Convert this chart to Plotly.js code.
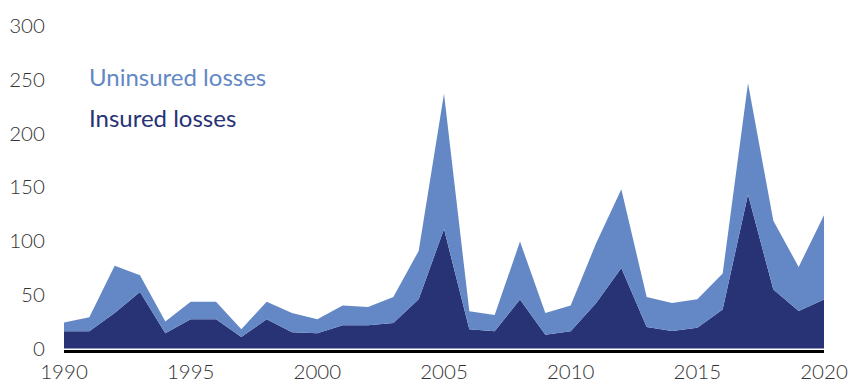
<!DOCTYPE html>
<html>
<head>
<meta charset="utf-8">
<script src="https://cdn.plot.ly/plotly-3.0.1.min.js"></script>
<style>html,body{margin:0;padding:0;background:#fff;}#chart{width:851px;height:383px;}</style>
</head>
<body>
<div id="chart"></div>
<script>
const years = [1990,1991,1992,1993,1994,1995,1996,1997,1998,1999,2000,2001,2002,2003,2004,2005,2006,2007,2008,2009,2010,2011,2012,2013,2014,2015,2016,2017,2018,2019,2020];
const insured = [16,16,33,52.5,14,27,27,10.5,27,15,14,21.5,21.5,23.6,45.7,111,17.7,16,45.4,12.7,16,42,74.8,19.9,16.1,19.3,36.3,143.2,54.7,34.8,45.4];
const uninsured = [8,13,44,15.5,11,16.5,16.5,7.2,16.5,18,13,18.5,17,24.2,45,126,16.8,15,54,20.3,24,55.5,73.2,27.9,26.1,26.4,33.3,103.5,64,41,78.6];
const yTicks = [0,50,100,150,200,250,300];
const xTicks = [1990,1995,2000,2005,2010,2015,2020];

const navy = '#283375';
const light = '#6388c5';

const tf = {family:'Lato, sans-serif', size:20.5, color:'#333', weight:300};

const traces = [
  {x: years, y: insured, type:'scatter', mode:'lines', stackgroup:'a', fill:'tozeroy',
   line:{width:0, color:navy}, fillcolor:navy, name:'Insured losses', hoverinfo:'skip'},
  {x: years, y: uninsured, type:'scatter', mode:'lines', stackgroup:'a', fill:'tonexty',
   line:{width:0, color:light}, fillcolor:light, name:'Uninsured losses', hoverinfo:'skip'}
];

const layout = {
  width: 851, height: 383,
  margin: {l:64, r:27, t:26, b:33},
  paper_bgcolor:'#fff', plot_bgcolor:'#fff',
  showlegend:false,
  font:{family:'Lato, "Open Sans", sans-serif', size:20, color:'#444'},
  xaxis:{range:[1990,2020], tickvals:xTicks, ticktext:xTicks.map(String),
    showgrid:false, zeroline:false, showline:true, linecolor:'#000', linewidth:2.5,
    ticks:'outside', ticklen:2, tickcolor:'rgba(0,0,0,0)', tickfont:tf},
  yaxis:{range:[-1.5,300], tickvals:yTicks, ticktext:yTicks.map(String),
    showgrid:false, zeroline:false, showline:false,
    ticks:'outside', ticklen:14, tickcolor:'rgba(0,0,0,0)', tickfont:tf},
  annotations:[
    {xref:'paper', yref:'paper', x:0.030, y:0.843, xanchor:'left', yanchor:'middle', showarrow:false,
     text:'Uninsured losses', font:{family:'Lato, sans-serif', size:24, color:light}},
    {xref:'paper', yref:'paper', x:0.030, y:0.718, xanchor:'left', yanchor:'middle', showarrow:false,
     text:'Insured losses', font:{family:'Lato, sans-serif', size:24, color:navy}}
  ]
};

Plotly.newPlot('chart', traces, layout, {staticPlot:true, displayModeBar:false});
</script>
</body>
</html>
